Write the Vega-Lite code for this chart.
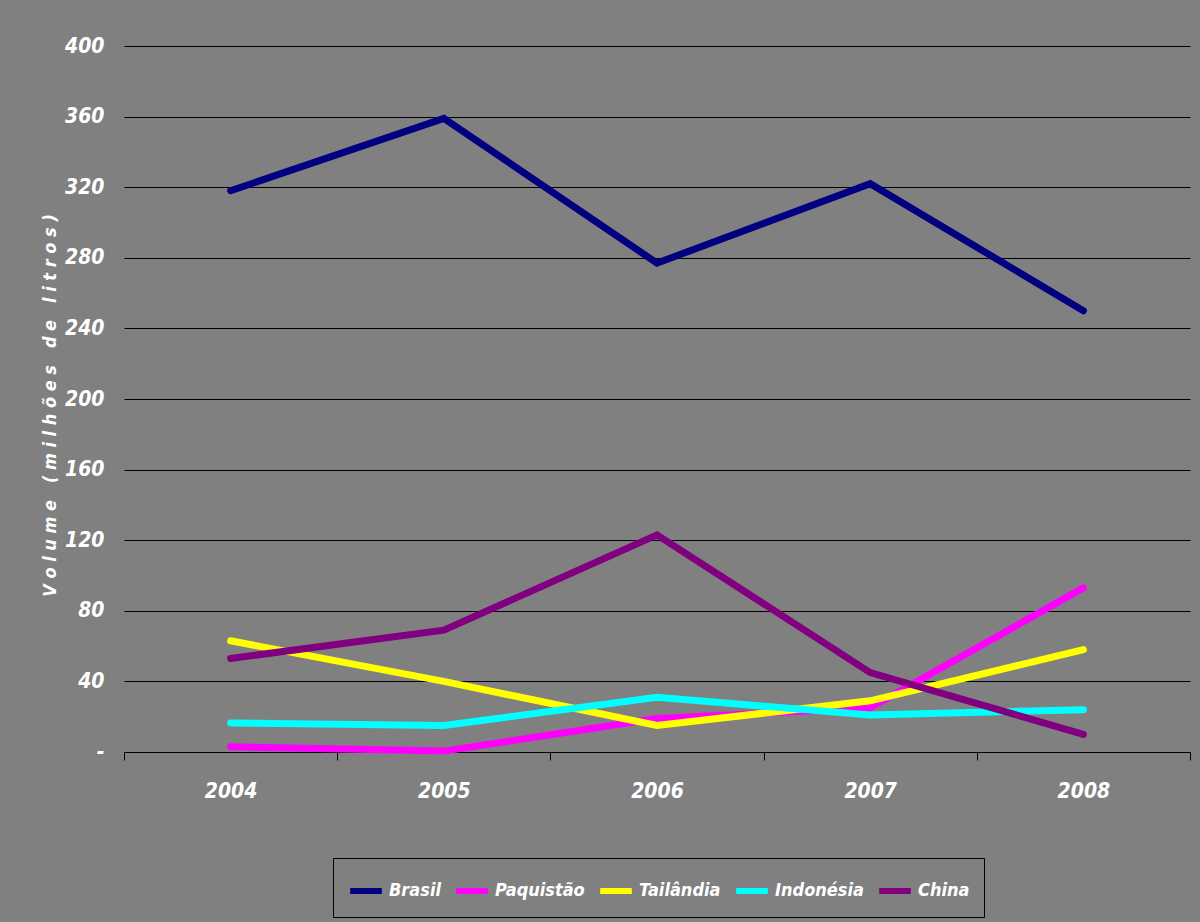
{
  "$schema": "https://vega.github.io/schema/vega-lite/v6.json",
  "autosize": "none",
  "width": 1066,
  "height": 706,
  "padding": {"left": 124, "top": 46, "right": 10, "bottom": 170},
  "background": "#808080",
  "config": {
    "view": {"stroke": null, "fill": "#808080"},
    "font": "DejaVu Sans Condensed, Liberation Sans Narrow, Liberation Sans, Arial"
  },
  "data": {
    "values": [
      {"ano": "2004", "pais": "Brasil", "volume": 318},
      {"ano": "2005", "pais": "Brasil", "volume": 359},
      {"ano": "2006", "pais": "Brasil", "volume": 277},
      {"ano": "2007", "pais": "Brasil", "volume": 322},
      {"ano": "2008", "pais": "Brasil", "volume": 250},
      {"ano": "2004", "pais": "Paquistão", "volume": 3},
      {"ano": "2005", "pais": "Paquistão", "volume": 0.5},
      {"ano": "2006", "pais": "Paquistão", "volume": 19},
      {"ano": "2007", "pais": "Paquistão", "volume": 25},
      {"ano": "2008", "pais": "Paquistão", "volume": 93},
      {"ano": "2004", "pais": "Tailândia", "volume": 63},
      {"ano": "2005", "pais": "Tailândia", "volume": 40},
      {"ano": "2006", "pais": "Tailândia", "volume": 15},
      {"ano": "2007", "pais": "Tailândia", "volume": 29},
      {"ano": "2008", "pais": "Tailândia", "volume": 58},
      {"ano": "2004", "pais": "Indonésia", "volume": 16.5},
      {"ano": "2005", "pais": "Indonésia", "volume": 15},
      {"ano": "2006", "pais": "Indonésia", "volume": 31},
      {"ano": "2007", "pais": "Indonésia", "volume": 21},
      {"ano": "2008", "pais": "Indonésia", "volume": 24},
      {"ano": "2004", "pais": "China", "volume": 53},
      {"ano": "2005", "pais": "China", "volume": 69},
      {"ano": "2006", "pais": "China", "volume": 123},
      {"ano": "2007", "pais": "China", "volume": 45},
      {"ano": "2008", "pais": "China", "volume": 10}
    ]
  },
  "mark": {"type": "line", "strokeWidth": 7, "strokeCap": "round", "strokeJoin": "miter"},
  "encoding": {
    "x": {
      "field": "ano",
      "type": "ordinal",
      "bandPosition": 0.5,
      "scale": {"type": "band", "paddingInner": 0, "paddingOuter": 0},
      "axis": {
        "title": null,
        "labelAngle": 0,
        "tickBand": "extent",
        "domainColor": "#000000",
        "tickColor": "#000000",
        "tickSize": 8,
        "labelColor": "#ffffff",
        "labelFontSize": 21,
        "labelFontWeight": "bold",
        "labelFontStyle": "italic",
        "labelPadding": 20,
        "grid": false
      }
    },
    "y": {
      "field": "volume",
      "type": "quantitative",
      "scale": {"domain": [0, 400], "nice": false, "zero": true},
      "axis": {
        "values": [0, 40, 80, 120, 160, 200, 240, 280, 320, 360, 400],
        "labelExpr": "datum.value == 0 ? '-' : datum.label",
        "title": "V o l u m e\u00a0\u00a0 ( m i l h õ e s\u00a0\u00a0 d e\u00a0\u00a0 l i t r o s )",
        "titleColor": "#ffffff",
        "titleFontSize": 18,
        "titleFontWeight": "bold",
        "titleFontStyle": "italic",
        "titleX": -74,
        "titleY": 359,
        "titleAnchor": "middle",
        "titleBaseline": "middle",
        "domain": false,
        "ticks": false,
        "grid": true,
        "gridColor": "#000000",
        "gridOpacity": 1,
        "gridWidth": 1,
        "labelColor": "#ffffff",
        "labelFontSize": 21,
        "labelFontWeight": "bold",
        "labelFontStyle": "italic",
        "labelPadding": 20
      }
    },
    "color": {
      "field": "pais",
      "type": "nominal",
      "sort": ["Brasil", "Paquistão", "Tailândia", "Indonésia", "China"],
      "scale": {
        "domain": ["Brasil", "Paquistão", "Tailândia", "Indonésia", "China"],
        "range": ["#000080", "#ff00ff", "#ffff00", "#00ffff", "#800080"]
      },
      "legend": {
        "title": null,
        "orient": "none",
        "direction": "horizontal",
        "legendX": 209,
        "legendY": 812,
        "strokeColor": "#000000",
        "padding": 14,
        "symbolType": "stroke",
        "symbolSize": 1000,
        "symbolStrokeWidth": 6,
        "labelColor": "#ffffff",
        "labelFontSize": 18,
        "labelFontWeight": "bold",
        "labelFontStyle": "italic",
        "labelOffset": 4,
        "columnPadding": 3,
        "labelLimit": 200
      }
    },
    "detail": {"field": "pais"}
  }
}
